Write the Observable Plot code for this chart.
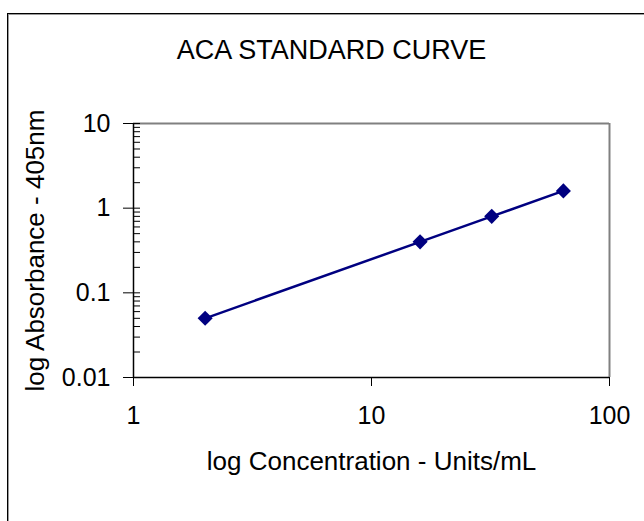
<!DOCTYPE html>
<html>
<head>
<meta charset="utf-8">
<script src="https://cdn.jsdelivr.net/npm/d3@7"></script>
<script src="https://cdn.jsdelivr.net/npm/@observablehq/plot@0.6"></script>
<style>
  html, body { margin: 0; padding: 0; background: #fff; }
  #wrap { position: relative; width: 644px; height: 521px; overflow: hidden; }
  #border { position: absolute; left: 7px; top: 13px; width: 700px; height: 600px;
            border-top: 1px solid #000; border-left: 1px solid #000;
            box-shadow: inset 1px 1px 0 #9a9a9a; pointer-events: none; }
</style>
</head>
<body>
<div id="wrap"><div id="border"></div></div>
<script>
// Data
const concentration = [2, 16, 32, 64];          // Units/mL
const absorbance    = [0.05, 0.4, 0.8, 1.6];     // 405nm

// Tick labels
const xTicks = [1, 10, 100];
const yTicks = [0.01, 0.1, 1, 10];
const yMinorTicks = [0.02, 0.03, 0.04, 0.05, 0.06, 0.07, 0.08, 0.09,
                     0.2, 0.3, 0.4, 0.5, 0.6, 0.7, 0.8, 0.9,
                     2, 3, 4, 5, 6, 7, 8, 9];

const titleText = "ACA STANDARD CURVE";
const xLabel = "log Concentration - Units/mL";
const yLabel = "log Absorbance - 405nm";

const points = concentration.map((c, i) => ({c, a: absorbance[i]}));
const navy = "#000080";
const font = "'Liberation Sans', Arial, sans-serif";

const chart = Plot.plot({
  width: 644,
  height: 521,
  marginLeft: 133,
  marginRight: 35,
  marginTop: 123,
  marginBottom: 144,
  style: {fontFamily: font, fontSize: "25px", color: "#000", background: "transparent"},
  x: {type: "log", domain: [1, 100]},
  y: {type: "log", domain: [0.01, 10]},
  marks: [
    // plot area outline (top and right in gray)
    Plot.ruleY([10], {stroke: "#808080", strokeWidth: 2}),
    Plot.ruleX([100], {stroke: "#808080", strokeWidth: 2}),
    // minor ticks (inside)
    Plot.axisY(yMinorTicks, {tickSize: -7, tickFormat: () => "", label: null, stroke: "#000"}),
    Plot.axisY(yTicks, {tickSize: -7, tickFormat: () => "", label: null, stroke: "#000"}),
    // major y ticks with labels (outside)
    Plot.axisY(yTicks, {tickSize: 10, tickPadding: 13, tickFormat: d => String(d),
                        fontSize: 25, label: null, stroke: "#000"}),
    // major x ticks with labels
    Plot.axisX(xTicks, {tickSize: 9, tickPadding: 20, tickFormat: d => String(d),
                        fontSize: 25, label: null, stroke: "#000"}),
    // axis lines
    Plot.ruleX([1], {stroke: "#000", strokeWidth: 1.5}),
    Plot.ruleY([0.01], {stroke: "#000", strokeWidth: 1.5}),
    // series
    Plot.line(points, {x: "c", y: "a", stroke: navy, strokeWidth: 2.5}),
    Plot.dot(points, {x: "c", y: "a", symbol: "diamond2", r: 6.8, fill: navy, stroke: "none"}),
    // texts
    Plot.text([titleText], {frameAnchor: "top", dx: -40, dy: -73, lineAnchor: "middle",
                            textAnchor: "middle", fontSize: 27, fill: "#000"}),
    Plot.text([xLabel], {frameAnchor: "bottom", dy: 84, lineAnchor: "middle",
                         textAnchor: "middle", fontSize: 26, fill: "#000"}),
    Plot.text([yLabel], {frameAnchor: "left", dx: -98, rotate: -90, lineAnchor: "middle",
                         textAnchor: "middle", fontSize: 26, fill: "#000"})
  ]
});
document.getElementById("wrap").prepend(chart);
</script>
</body>
</html>
